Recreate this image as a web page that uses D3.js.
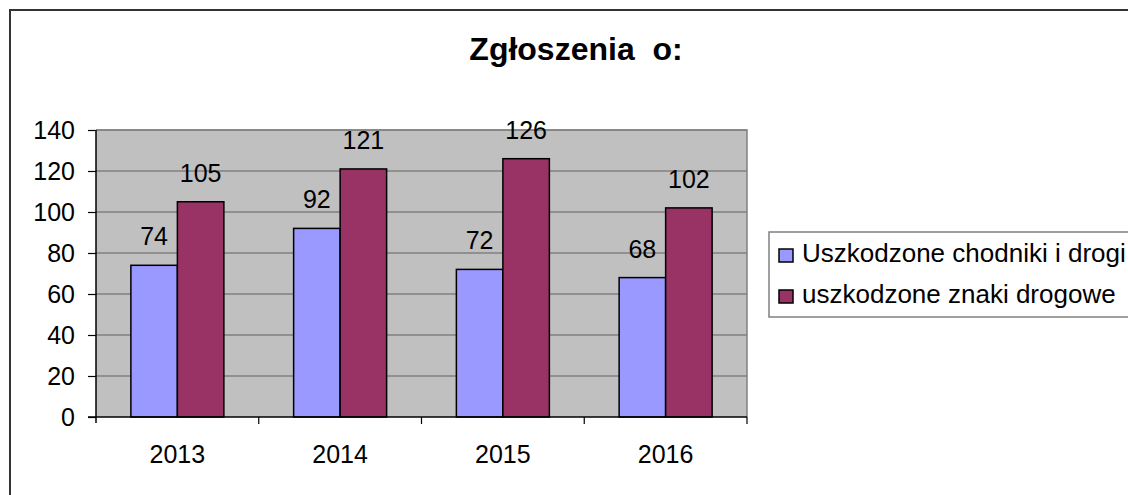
<!DOCTYPE html>
<html>
<head>
<meta charset="utf-8">
<script src="https://cdn.jsdelivr.net/npm/d3@7"></script>
<style>
  html, body { margin: 0; padding: 0; background: #fff; }
  svg { display: block; font-family: "Liberation Sans", Arial, sans-serif; }
</style>
</head>
<body>
<svg id="chart" width="1128" height="495"></svg>
<script>
// Yearly report counts
const years = ["2013", "2014", "2015", "2016"];
const seriesNames = ["Uszkodzone chodniki i drogi", "uszkodzone znaki drogowe"];
const chodniki = [74, 92, 72, 68];
const znaki = [105, 121, 126, 102];
const yTicks = [0, 20, 40, 60, 80, 100, 120, 140];
const titleText = "Zgłoszenia  o:";

const colors = ["#9999FF", "#993366"];
const seriesValues = [chodniki, znaki];
const fontSize = 25;

const svg = d3.select("#chart");

// outer chart frame
svg.append("rect")
  .attr("x", 10).attr("y", 10)
  .attr("width", 1140).attr("height", 500)
  .attr("fill", "#fff").attr("stroke", "#333").attr("stroke-width", 2);

const plot = { left: 96, right: 747, top: 130, bottom: 417 };

const x = d3.scaleBand().domain(years).range([plot.left, plot.right]).padding(0);
const xs = d3.scaleBand().domain(d3.range(seriesNames.length))
  .range([0, x.bandwidth()]).paddingInner(0).paddingOuter(0.75);
const y = d3.scaleLinear().domain([0, 140]).range([plot.bottom, plot.top]);

// plot background
svg.append("rect")
  .attr("x", plot.left).attr("y", plot.top)
  .attr("width", plot.right - plot.left).attr("height", plot.bottom - plot.top)
  .attr("fill", "#C0C0C0");

// horizontal gridlines
svg.append("g").selectAll("line").data(yTicks.filter(d => d > 0)).join("line")
  .attr("x1", plot.left).attr("x2", plot.right)
  .attr("y1", d => y(d)).attr("y2", d => y(d))
  .attr("stroke", "#606060").attr("stroke-width", 1);

// plot border (top and right)
svg.append("path")
  .attr("d", `M${plot.left},${plot.top}H${plot.right}V${plot.bottom}`)
  .attr("fill", "none").attr("stroke", "#808080").attr("stroke-width", 1.5);

// bars
const groups = svg.append("g").selectAll("g").data(years).join("g")
  .attr("transform", d => `translate(${x(d)},0)`);

groups.selectAll("rect").data((yr, i) => seriesValues.map((vals, s) => ({ s, v: vals[i] })))
  .join("rect")
  .attr("x", d => xs(d.s)).attr("width", xs.bandwidth())
  .attr("y", d => y(d.v)).attr("height", d => y(0) - y(d.v))
  .attr("fill", d => colors[d.s])
  .attr("stroke", "#000").attr("stroke-width", 1.5);

// value labels
groups.selectAll("text").data((yr, i) => seriesValues.map((vals, s) => ({ s, v: vals[i] })))
  .join("text")
  .attr("x", d => xs(d.s) + xs.bandwidth() / 2)
  .attr("y", d => y(d.v) - 20)
  .attr("text-anchor", "middle")
  .attr("font-size", fontSize)
  .attr("fill", "#000")
  .text(d => d.v);

// y axis
const yAxis = svg.append("g").attr("transform", `translate(${plot.left},0)`)
  .call(d3.axisLeft(y).tickValues(yTicks).tickSize(8).tickPadding(13).tickFormat(d3.format("d")));
yAxis.select(".domain").remove();
yAxis.selectAll(".tick line").attr("stroke", "#000").attr("stroke-width", 1.2);
yAxis.selectAll(".tick text").attr("font-size", fontSize).attr("font-family", "Liberation Sans, Arial, sans-serif").attr("fill", "#000");

// axis lines
svg.append("line")
  .attr("x1", plot.left).attr("x2", plot.left)
  .attr("y1", plot.top).attr("y2", plot.bottom + 6)
  .attr("stroke", "#000").attr("stroke-width", 1.5);
svg.append("line")
  .attr("x1", plot.left - 8).attr("x2", plot.right)
  .attr("y1", plot.bottom).attr("y2", plot.bottom)
  .attr("stroke", "#000").attr("stroke-width", 1.5);

// category boundary ticks
const boundaries = years.map(d => x(d)).concat([plot.right]);
svg.append("g").selectAll("line").data(boundaries.slice(1)).join("line")
  .attr("x1", d => d).attr("x2", d => d)
  .attr("y1", plot.bottom).attr("y2", plot.bottom + 7)
  .attr("stroke", "#000").attr("stroke-width", 1.2);

// category labels
svg.append("g").selectAll("text").data(years).join("text")
  .attr("x", d => x(d) + x.bandwidth() / 2)
  .attr("y", 463)
  .attr("text-anchor", "middle")
  .attr("font-size", fontSize)
  .attr("fill", "#000")
  .text(d => d);

// title
svg.append("text")
  .attr("x", 576).attr("y", 60)
  .attr("text-anchor", "middle")
  .attr("font-size", 32).attr("font-weight", "bold")
  .style("white-space", "pre")
  .attr("fill", "#000")
  .text(titleText);

// legend
const legend = svg.append("g");
legend.append("rect")
  .attr("x", 769).attr("y", 232).attr("width", 400).attr("height", 85)
  .attr("fill", "#fff").attr("stroke", "#808080").attr("stroke-width", 1.5);
const items = legend.selectAll("g").data(seriesNames).join("g")
  .attr("transform", (d, i) => `translate(0,${i * 41})`);
items.append("rect")
  .attr("x", 779).attr("y", 249).attr("width", 14).attr("height", 13)
  .attr("fill", (d, i) => colors[i]).attr("stroke", "#000").attr("stroke-width", 1.5);
items.append("text")
  .attr("x", 802).attr("y", 262)
  .attr("font-size", 26)
  .attr("fill", "#000")
  .text(d => d);
</script>
</body>
</html>
